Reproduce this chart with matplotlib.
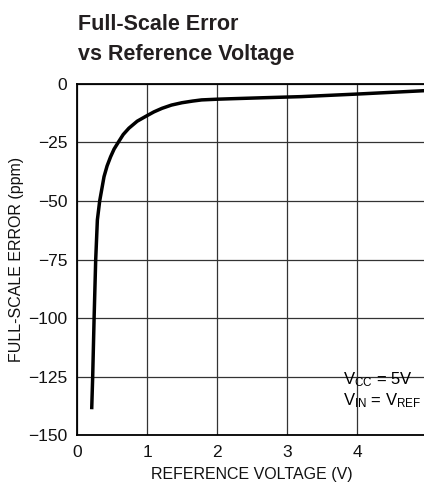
import matplotlib
matplotlib.use('Agg')
import matplotlib.pyplot as plt

# data
ref_voltage = [0.21, 0.224, 0.244, 0.267, 0.291, 0.324, 0.386, 0.43, 0.48, 0.53, 0.59, 0.66, 0.741, 0.86,
               0.99, 1.1, 1.214, 1.35, 1.5, 1.65, 1.78, 2.0, 2.2, 2.63, 3.2, 4.0, 5.0]
fs_error = [-139.0, -125.2, -100.4, -75.2, -58.1, -50.0, -39.6, -35.0, -31.1, -27.8, -24.9, -21.6, -18.9, -15.9,
            -13.7, -11.9, -10.4, -9.0, -8.0, -7.3, -6.8, -6.5, -6.3, -5.9, -5.4, -4.3, -2.8]

x_ticks = [0, 1, 2, 3, 4]
y_ticks = [0, -25, -50, -75, -100, -125, -150]
y_ticklabels = ['0', '\u221225', '\u221250', '\u221275', '\u2212100', '\u2212125', '\u2212150']

plt.rcParams['font.family'] = ['Liberation Sans', 'DejaVu Sans']
plt.rcParams['mathtext.fontset'] = 'custom'
plt.rcParams['mathtext.rm'] = 'Liberation Sans'

W, H = 424, 491
fig = plt.figure(figsize=(W / 100, H / 100), dpi=100)
ax = fig.add_axes([77 / W, 56 / H, 350 / W, 351 / H])

ax.plot(ref_voltage, fs_error, c='black', lw=2.5, solid_capstyle='butt', solid_joinstyle='round')

ax.set_xlim(0, 5)
ax.set_ylim(-150, 0)
ax.set_xticks(x_ticks)
ax.set_yticks(y_ticks)
ax.set_yticklabels(y_ticklabels)
ax.grid(True, color='#333333', lw=0.9)
ax.tick_params(length=0, labelsize=12.5, pad=7, colors='#111111')
for s in ['left', 'bottom', 'top']:
    ax.spines[s].set_linewidth(1.3)
ax.spines['right'].set_visible(False)

ax.set_xlabel('REFERENCE VOLTAGE (V)', fontsize=11.5, labelpad=5, color='#111111')
ax.set_ylabel('FULL-SCALE ERROR (ppm)', fontsize=11.5, labelpad=3, color='#111111')

ax.text(3.8, -128.5, '$\\mathregular{V_{CC}}$ = 5V', fontsize=12, va='baseline')
ax.text(3.8, -137.2, '$\\mathregular{V_{IN}}$ = $\\mathregular{V_{REF}}$', fontsize=12, va='baseline')

# title, two lines
fig.text(78 / W, 1 - 30 / H, 'Full-Scale Error', fontsize=15.5, fontweight='bold',
         va='baseline', ha='left', color='#231f20')
fig.text(78 / W, 1 - 60 / H, 'vs Reference Voltage', fontsize=15.5, fontweight='bold',
         va='baseline', ha='left', color='#231f20')

plt.savefig('out.png', dpi=100)
